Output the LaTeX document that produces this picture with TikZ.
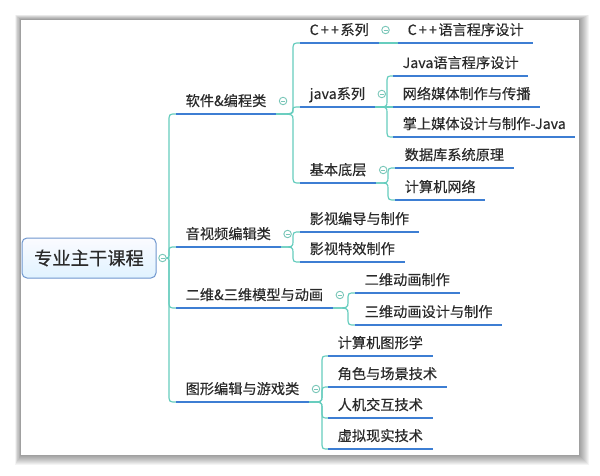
\documentclass[tikz,border=0pt]{standalone}
\usepackage{fontspec}
\setmainfont{Noto Sans CJK SC}[FakeBold=0.35]
\usetikzlibrary{calc}
\definecolor{tealline}{HTML}{66CDBE}
\definecolor{ublue}{HTML}{3D7ED3}
\definecolor{txtc}{HTML}{2A2A2A}
\definecolor{cbtn}{HTML}{78C6B8}
\definecolor{rootb}{HTML}{6E96CE}
\tikzset{
  topic/.style={anchor=south west, inner xsep=9.5pt, inner ysep=4.8pt, text depth=3pt, text height=11pt,
    font=\fontsize{14.2}{16}\selectfont, text=txtc},
  uline/.style={draw=ublue, line width=2pt},
  conn/.style={draw=tealline, line width=1.2pt},
  btn/.style={circle, draw=cbtn, line width=0.9pt, minimum size=7.5pt, inner sep=0pt, fill=white},
  mm/.style={to path={let \p1=(\tikztostart), \p2=(\tikztotarget), \n1={\y2-(\y1)},
     \n2={sign(\n1)*min(6,abs(\n1)/2)}, \n3={sign(\n1)*min(8,abs(\n1)/2)} in
     .. controls (#1,\y1) .. (#1,{\y1+\n2*1pt}) -- (#1,{\y2-\n3*1pt}) .. controls (#1,\y2) .. (\tikztotarget)}},
}
\newcommand\mmbtn[2]{\node[btn] (#1) at #2 {};
  \draw[draw=cbtn, line width=0.9pt] ([xshift=-2pt]#1.center) -- ([xshift=2pt]#1.center);}
\newcommand\cpp{C\kern2.2pt+\kern2.2pt+\kern1.5pt}
\begin{document}
\begin{tikzpicture}[x=1pt,y=-1pt]
\useasboundingbox (0,0) rectangle (600,476);
\fill[white] (0,0) rectangle (600,476);
% shadow and frame
\foreach \i in {1,...,10}
  \fill[black, opacity=0.042] ({21-0.6*\i},{20-0.5*\i}) rectangle ({579+\i},{455+\i});
\fill[white] (21,20) rectangle (579,455);

% root
\node[draw=rootb, line width=1pt, rounded corners=5pt, top color=white!60!blue!4, bottom color=blue!40!cyan!12,
  minimum width=134pt, minimum height=40pt, inner sep=0pt, text=txtc,
  font=\fontsize{18.3}{20}\selectfont] (root) at (89,258) {专业主干课程};

% level 1
\node[topic] (t1) at (176,114) {软件\&编程类};
\node[topic] (t2) at (176,247) {音视频编辑类};
\node[topic] (t3) at (176,308) {二维\&三维模型与动画};
\node[topic] (t4) at (176,402) {图形编辑与游戏类};

% level 2 / 3
\node[topic] (a1) at (300,43) {\cpp 系列};
\node[topic] (a2) at (300,107) {java系列};
\node[topic] (a3) at (300,183) {基本底层};
\node[topic] (a11) at (398,43) {\cpp 语言程序设计};
\node[topic] (a21) at (393,76) {Java语言程序设计};
\node[topic] (a22) at (393,107) {网络媒体制作与传播};
\node[topic] (a23) at (393,137) {掌上媒体设计与制作-Java};
\node[topic] (a31) at (395,168) {数据库系统原理};
\node[topic] (a32) at (395,200) {计算机网络};
\node[topic] (b1) at (300,232) {影视编导与制作};
\node[topic] (b2) at (300,262) {影视特效制作};
\node[topic] (c1) at (355,293) {二维动画制作};
\node[topic] (c2) at (355,325) {三维动画设计与制作};
\node[topic] (d1) at (328,356) {计算机图形学};
\node[topic] (d2) at (328,387) {角色与场景技术};
\node[topic] (d3) at (328,418) {人机交互技术};
\node[topic] (d4) at (328,449) {虚拟现实技术};

% collapse buttons
\mmbtn{rc}{($(root.east)+(6,0)$)}
\mmbtn{ct1}{($(t1.south east)+(7,-13)$)}
\mmbtn{ct2}{($(t2.south east)+(7,-13)$)}
\mmbtn{ct3}{($(t3.south east)+(7,-13)$)}
\mmbtn{ct4}{($(t4.south east)+(7,-13)$)}
\mmbtn{ca1}{($(a1.south east)+(7,-13)$)}
\mmbtn{ca2}{($(a2.south east)+(7,-13)$)}
\mmbtn{ca3}{($(a3.south east)+(7,-13)$)}

% connectors
\foreach \c in {t1,t2,t3,t4} \draw[conn] (rc.east) to[mm=169pt] (\c.south west);
\foreach \c in {a1,a2,a3} \draw[conn] (t1.south east) to[mm=293pt] (\c.south west);
\draw[conn] (a1.south east) -- (a11.south west);
\foreach \c in {a21,a22,a23} \draw[conn] (a2.south east) to[mm=387pt] (\c.south west);
\foreach \c in {a31,a32} \draw[conn] (a3.south east) to[mm=388pt] (\c.south west);
\foreach \c in {b1,b2} \draw[conn] (t2.south east) to[mm=293pt] (\c.south west);
\foreach \c in {c1,c2} \draw[conn] (t3.south east) to[mm=348pt] (\c.south west);
\foreach \c in {d1,d2,d3,d4} \draw[conn] (t4.south east) to[mm=322pt] (\c.south west);

% underlines
\foreach \n in {t1,t2,t3,t4,a1,a2,a3,a11,a21,a22,a23,a31,a32,b1,b2,c1,c2,d1,d2,d3,d4}
  \draw[uline] (\n.south west) -- (\n.south east);
\end{tikzpicture}
\end{document}
